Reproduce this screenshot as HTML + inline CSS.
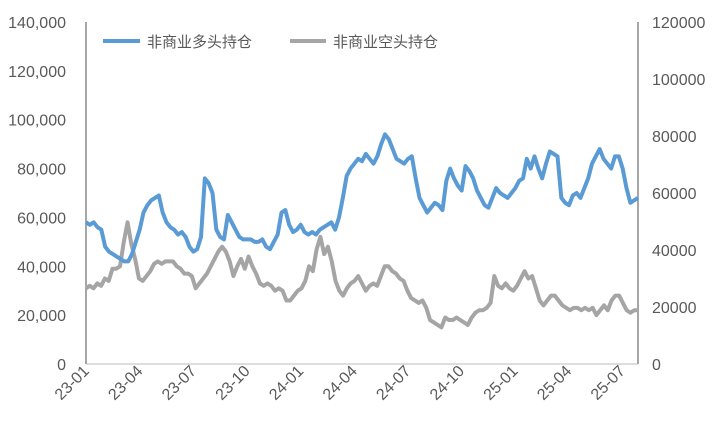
<!DOCTYPE html>
<html><head><meta charset="utf-8"><style>
body{margin:0;background:#fff}
svg text{font-family:"Liberation Sans","Noto Sans CJK SC",sans-serif;fill:#595959}
</style></head><body>
<svg id="c" width="716" height="437"></svg>
<script>
const xLabels=["23-01","23-04","23-07","23-10","24-01","24-04","24-07","24-10","25-01","25-04","25-07"];
const leftTicks=[0,20000,40000,60000,80000,100000,120000,140000];
const rightTicks=[0,20000,40000,60000,80000,100000,120000];
const longPos=[58,57,58,56,55,48,46,45,44,43,42,42,45,50,55,62,65,67,68,69,62,58,56,55,53,54,52,48,46,47,52,76,74,70,55,52,51,61,58,55,52,51,51,51,50,50,51,48,47,50,53,62,63,57,54,55,57,54,53,54,53,55,56,57,58,55,60,68,77,80,82,84,83,86,84,82,85,90,94,92,88,84,83,82,84,85,76,68,65,62,64,66,65,63,75,80,76,73,71,81,79,76,71,68,65,64,68,72,70,69,68,70,72,75,76,84,80,85,80,76,82,87,86,85,68,66,65,69,70,68,72,76,82,85,88,84,82,80,85,85,80,72,66,67,68];
const shortPos=[31,32,31,33,32,35,34,39,39,40,50,58,49,43,35,34,36,38,41,42,41,42,42,42,40,39,37,37,36,31,33,35,37,40,43,46,48,46,42,36,40,43,39,44,40,37,33,32,33,32,30,31,30,26,26,28,30,31,34,40,38,47,52,45,48,42,34,30,28,31,33,34,36,33,30,32,33,32,36,40,40,38,37,35,34,30,27,26,25,26,23,18,17,16,15,19,18,18,19,18,17,16,19,21,22,22,23,25,36,32,31,33,31,30,32,35,38,35,36,31,26,24,26,28,28,26,24,23,22,23,23,22,23,22,23,20,22,24,22,26,28,28,25,22,21,22,22];
const svg=document.getElementById('c');const NS='http://www.w3.org/2000/svg';
const X0=86,X1=638,Y0=364,Y1=22;
const yL=v=>Y0-(v/140000)*(Y0-Y1);
const yR=v=>Y0-(v/120000)*(Y0-Y1);
function mk(t,a){const e=document.createElementNS(NS,t);for(const k in a)e.setAttribute(k,a[k]);svg.appendChild(e);return e;}
let e;
leftTicks.forEach(v=>{e=mk('text',{x:66,y:yL(v)+6,'text-anchor':'end','font-size':16});e.textContent=v.toLocaleString('en-US');

});
rightTicks.forEach(v=>{e=mk('text',{x:652,y:yR(v)+6,'font-size':16});e.textContent=String(v);

});
const step=(X1-X0)/(xLabels.length-1)*0.9712;
xLabels.forEach((l,i)=>{const x=X0+i*53.6;e=mk('text',{x:x+4,y:372,'text-anchor':'end','font-size':16,transform:`rotate(-45 ${x+4} 372)`});e.textContent=l;

});
e=mk('line',{x1:X0,y1:Y1,x2:X0,y2:Y0,stroke:'#888','stroke-width':1.5});


e=mk('line',{x1:X1,y1:Y1,x2:X1,y2:Y0,stroke:'#888','stroke-width':1.5});


e=mk('line',{x1:X0,y1:Y0,x2:X1,y2:Y0,stroke:'#bbb','stroke-width':1});


function series(arr,color,name){const n=arr.length;const pts=arr.map((v,i)=>`${X0+i*(X1-X0)/(n-1)},${yL(v*1000)}`).join(' ');
const p=mk('polyline',{points:pts,fill:'none',stroke:color,'stroke-width':4,'stroke-linejoin':'round'});

}
series(shortPos,'#a5a5a5','short-position-line');
series(longPos,'#5b9bd5','long-position-line');
e=mk('line',{x1:103,y1:41,x2:140,y2:41,stroke:'#5b9bd5','stroke-width':4});


e=mk('text',{x:147,y:47,'font-size':15});e.textContent='非商业多头持仓';


e=mk('line',{x1:290,y1:41,x2:326,y2:41,stroke:'#a5a5a5','stroke-width':4});


e=mk('text',{x:333,y:47,'font-size':15});e.textContent='非商业空头持仓';


</script>
</body></html>
